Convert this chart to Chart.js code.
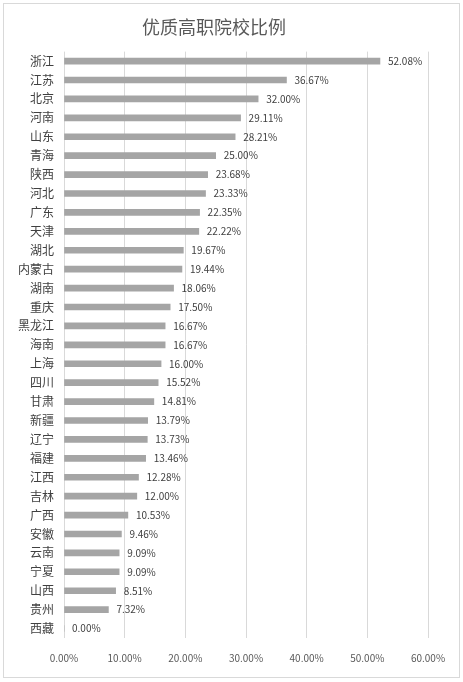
<!DOCTYPE html>
<html>
<head>
<meta charset="utf-8">
<script src="https://cdn.jsdelivr.net/npm/chart.js@4"></script>
<style>
  html, body { margin: 0; padding: 0; background: #fff; }
  #wrap { position: relative; width: 463px; height: 682px; }
</style>
</head>
<body>
<div id="wrap"><canvas id="ratioChart"></canvas></div>
<script>
const provinces = ['浙江', '江苏', '北京', '河南', '山东', '青海', '陕西', '河北', '广东', '天津',
    '湖北', '内蒙古', '湖南', '重庆', '黑龙江', '海南', '上海', '四川', '甘肃', '新疆',
    '辽宁', '福建', '江西', '吉林', '广西', '安徽', '云南', '宁夏', '山西', '贵州', '西藏'];
const ratios = [52.08, 36.67, 32.00, 29.11, 28.21, 25.00, 23.68, 23.33, 22.35, 22.22,
    19.67, 19.44, 18.06, 17.50, 16.67, 16.67, 16.00, 15.52, 14.81, 13.79,
    13.73, 13.46, 12.28, 12.00, 10.53, 9.46, 9.09, 9.09, 8.51, 7.32, 0.00];
const xTicks = [0, 10, 20, 30, 40, 50, 60];

const FONT = "'Noto Sans CJK SC', 'Noto Sans', sans-serif";

// outer frame like the spreadsheet chart border
const frame = {
    id: 'frame',
    beforeDraw(chart) {
        const c = chart.ctx;
        c.save();
        c.fillStyle = '#fff';
        c.fillRect(0, 0, chart.width, chart.height);
        c.strokeStyle = '#d9d9d9';
        c.lineWidth = 1;
        c.strokeRect(3.5, 3.5, 456, 674);
        c.restore();
    }
};

// value labels after the bar ends
const valueLabels = {
    id: 'valueLabels',
    afterDatasetsDraw(chart) {
        const c = chart.ctx;
        const meta = chart.getDatasetMeta(0);
        c.save();
        c.font = '10px ' + FONT;
        c.fillStyle = '#404040';
        c.textAlign = 'left';
        c.textBaseline = 'middle';
        meta.data.forEach((bar, i) => {
            c.fillText(ratios[i].toFixed(2) + '%', bar.x + 8, bar.y);
        });
        c.restore();
    }
};

new Chart(document.getElementById('ratioChart'), {
    type: 'bar',
    data: {
        labels: provinces,
        datasets: [{
            data: ratios,
            backgroundColor: '#a5a5a5',
            barThickness: 6
        }]
    },
    options: {
        indexAxis: 'y',
        responsive: true,
        maintainAspectRatio: false,
        animation: false,
        layout: { padding: { top: 6, right: 35, left: 0, bottom: 0 } },
        plugins: {
            legend: { display: false },
            tooltip: { enabled: false },
            title: {
                display: true,
                text: '优质高职院校比例',
                color: '#595959',
                font: { family: FONT, size: 18, weight: 'normal' },
                padding: { top: 10, bottom: 14 }
            }
        },
        scales: {
            x: {
                min: 0,
                max: 60,
                afterBuildTicks: axis => { axis.ticks = xTicks.map(v => ({ value: v })); },
                afterFit: axis => { axis.height = 44; },
                grid: { color: '#d9d9d9', drawTicks: false },
                border: { display: false },
                ticks: {
                    padding: 14,
                    color: '#595959',
                    font: { family: FONT, size: 10 },
                    callback: v => v.toFixed(2) + '%'
                }
            },
            y: {
                afterFit: axis => { axis.width = 64; },
                grid: { display: false, drawTicks: false },
                border: { display: false },
                ticks: {
                    padding: 10,
                    color: '#404040',
                    font: { family: FONT, size: 12 }
                }
            }
        }
    },
    plugins: [frame, valueLabels]
});
</script>
</body>
</html>
